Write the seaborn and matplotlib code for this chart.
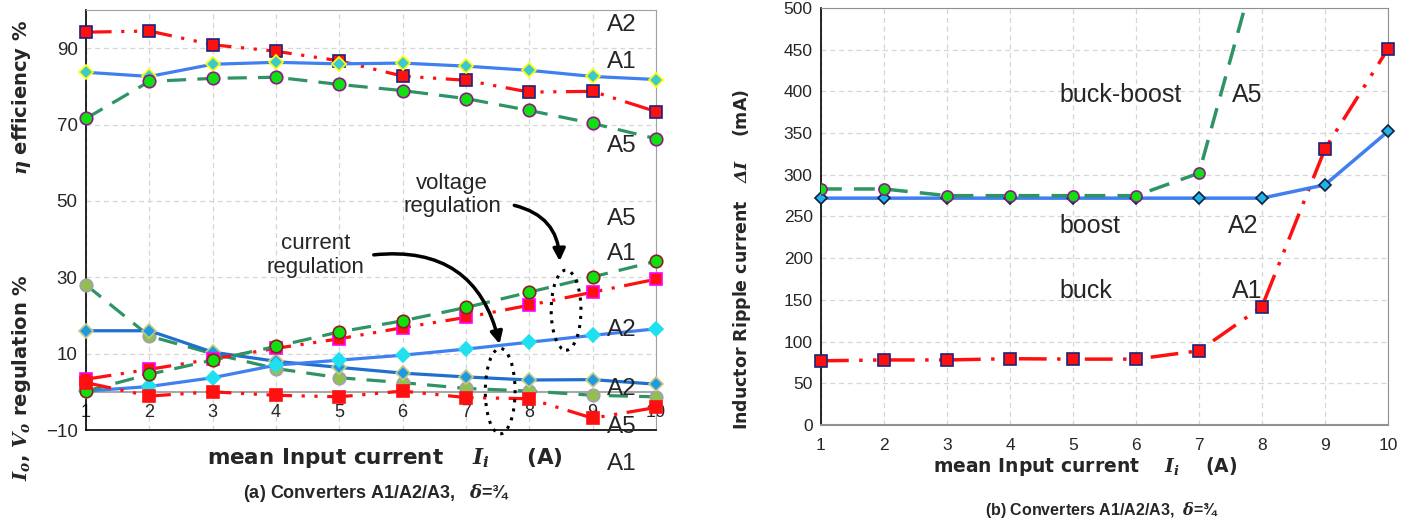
import matplotlib
matplotlib.use("Agg")
import matplotlib.pyplot as plt
from matplotlib.patches import Ellipse
import seaborn as sns

current = [1, 2, 3, 4, 5, 6, 7, 8, 9, 10]

# (a) efficiency %
eff_a2 = [94.2, 94.5, 90.9, 89.2, 86.7, 82.7, 81.6, 78.5, 78.7, 73.4]
eff_a1 = [83.7, 82.6, 85.8, 86.3, 85.9, 86.1, 85.3, 84.2, 82.6, 81.8]
eff_a5 = [71.6, 81.3, 82.1, 82.4, 80.5, 78.9, 76.8, 73.7, 70.3, 66.3]

# (a) current / voltage regulation %
ireg_a5 = [0.2, 4.6, 8.3, 11.9, 15.7, 18.6, 22.1, 26.1, 30.1, 34.2]
ireg_a1 = [3.3, 5.9, 8.6, 11.4, 13.9, 16.8, 19.5, 22.7, 26.1, 29.5]
ireg_a2 = [0.2, 1.4, 3.7, 7.0, 8.3, 9.6, 11.2, 13.0, 14.8, 16.5]
vreg_a2 = [16.0, 16.0, 10.4, 8.0, 6.4, 4.9, 3.9, 3.1, 3.2, 2.0]
vreg_a5 = [28.0, 14.6, 10.0, 6.1, 3.7, 2.4, 0.9, 0.2, -0.9, -1.3]
vreg_a1 = [2.4, -1.1, 0.0, -0.9, -1.3, 0.2, -1.5, -1.8, -6.9, -4.1]

# (b) inductor ripple current, mA
current_a5 = [1, 2, 3, 4, 5, 6, 7, 8]
ripple_a5 = [283, 283, 275, 275, 275, 275, 302, 575]
ripple_a2 = [272, 272, 272, 272, 272, 272, 272, 272, 288, 352]
ripple_a1 = [77, 78, 78, 79.5, 79, 79, 89, 142, 331, 451]

sns.set_style("white")
plt.rcParams["font.family"] = ["Liberation Sans", "DejaVu Sans"]
plt.rcParams["mathtext.fontset"] = "dejavuserif"

RED = "#ff1010"
BLUE = "#3f7ff0"
DBLUE = "#1f6fd0"
GREEN = "#2f9463"
dashdotdot = (0, (8, 3, 1, 3, 1, 3))
dashed = (0, (6, 3.5))

fig = plt.figure(figsize=(14.15, 5.22), dpi=100)
ax = fig.add_axes([0.0608, 0.1762, 0.4028, 0.8046])
bx = fig.add_axes([0.5802, 0.1858, 0.4007, 0.7989])


def line(a, x, y, color, ls, marker, face, edge, ms=9, lw=2.3):
    sns.lineplot(x=x, y=y, ax=a, color=color, linestyle=ls, lw=lw,
                 marker=marker, markersize=ms, markerfacecolor=face,
                 markeredgecolor=edge, markeredgewidth=1.2, clip_on=False,
                 zorder=3)


# ---- (a) ----
line(ax, current, eff_a2, RED, dashdotdot, "s", RED, "#1a237e", 8.5)
line(ax, current, eff_a1, BLUE, "-", "D", "#3cc8d0", "#ffff00", 7.5)
line(ax, current, eff_a5, GREEN, dashed, "o", "#10e010", "#8a1a8a", 9)
line(ax, current, vreg_a5, GREEN, dashed, "o", "#92c050", "#a0a0b0", 9)
line(ax, current, vreg_a2, DBLUE, "-", "D", "#1e9be0", "#c8c880", 7)
line(ax, current, ireg_a2, BLUE, "-", "D", "#20e0f0", "#20e0f0", 7)
line(ax, current, ireg_a1, RED, dashdotdot, "s", RED, "#ff00ff", 9)
line(ax, current, ireg_a5, GREEN, dashed, "o", "#10e010", "#8a2020", 9)
line(ax, current, vreg_a1, RED, dashdotdot, "s", RED, RED, 9)

ax.set_xlim(1, 10)
ax.set_ylim(-10, 100)
ax.set_xticks(current)
ax.set_yticks([-10, 10, 30, 50, 70, 90])
ax.grid(True, color="#d6d6d6", linestyle=(0, (4, 3)), lw=0.9)
ax.axhline(0, color="#a8a8a8", lw=1.5, zorder=1)
ax.tick_params(axis="x", length=0, pad=-19, labelsize=13)
ax.tick_params(axis="y", length=4, labelsize=13.5, pad=2)
for s in ["top", "right"]:
    ax.spines[s].set_color("#a0a0a0")
for s in ["left", "bottom"]:
    ax.spines[s].set_color("black")
    ax.spines[s].set_linewidth(1.2)

labels_a = [("A2", 96.2), ("A1", 86.4), ("A5", 64.4), ("A5", 45.3), ("A1", 36.0),
            ("A2", 16.1), ("A2", 0.7), ("A5", -9.1), ("A1", -18.9)]
for t, yv in labels_a:
    ax.text(9.23, yv, t, fontsize=17.5, va="center", ha="left", clip_on=False, zorder=4)

ax.text(6.78, 51.6, "voltage\nregulation", fontsize=16, ha="center", va="center",
        linespacing=1.15)
ax.text(4.62, 35.7, "current\nregulation", fontsize=16, ha="center", va="center",
        linespacing=1.15)
ax.annotate("", xy=(8.48, 33.5), xytext=(7.72, 49.0),
            arrowprops=dict(arrowstyle="-|>", color="black", lw=2.5,
                            connectionstyle="arc3,rad=-0.4", mutation_scale=18))
ax.annotate("", xy=(7.54, 11.8), xytext=(5.5, 35.8),
            arrowprops=dict(arrowstyle="-|>", color="black", lw=2.5,
                            connectionstyle="arc3,rad=-0.45", mutation_scale=18))
ax.add_patch(Ellipse((8.58, 21.4), 0.47, 21, fill=False, ls=(0, (1, 2)),
                     lw=2.2, color="black", zorder=5))
ax.add_patch(Ellipse((7.54, 0.2), 0.47, 22.4, fill=False, ls=(0, (1, 2)),
                     lw=2.2, color="black", zorder=5, clip_on=False))

fig.text(22 / 1415, 1 - 97 / 522, r"$\mathbfit{\eta}$ efficiency %", rotation=90,
         ha="center", va="center", fontsize=14, fontweight="bold", family="DejaVu Sans")
fig.text(22 / 1415, 1 - 378 / 522, r"$\mathbfit{I_o}$, $\mathbfit{V_o}$ regulation %",
         rotation=90, ha="center", va="center", fontsize=14, fontweight="bold",
         family="DejaVu Sans")
fig.text(385 / 1415, 1 - 458 / 522,
         r"mean Input current    $\mathbfit{I_i}$     (A)",
         ha="center", va="center", fontsize=15.5, fontweight="bold", family="DejaVu Sans")
fig.text(376 / 1415, 1 - 493 / 522,
         r"(a) Converters A1/A2/A3,   $\mathbfit{\delta}$=¾",
         ha="center", va="center", fontsize=13, fontweight="bold")

# ---- (b) ----
line(bx, current, ripple_a1, RED, dashdotdot, "s", RED, "#1a237e", 8, 2.5)
line(bx, current, ripple_a2, BLUE, "-", "D", "#1fb5e8", "#102040", 6, 2.5)
sns.lineplot(x=current_a5, y=ripple_a5, ax=bx, color=GREEN, linestyle=dashed, lw=2.5,
             marker="o", markersize=8, markerfacecolor="#10e010",
             markeredgecolor="#8a1a8a", markeredgewidth=1.2, zorder=3)

bx.set_xlim(1, 10)
bx.set_ylim(0, 500)
bx.set_xticks(current)
bx.set_yticks(range(0, 501, 50))
bx.grid(True, color="#d6d6d6", linestyle=(0, (4, 3)), lw=0.9)
bx.tick_params(axis="x", length=4, color="#909090", pad=5, labelsize=12.5)
bx.tick_params(axis="y", length=4, labelsize=12.5, pad=2)
for s in ["top", "right", "bottom"]:
    bx.spines[s].set_color("#909090")
bx.spines["bottom"].set_linewidth(1.5)
bx.spines["left"].set_color("black")
bx.spines["left"].set_linewidth(1.2)

for t, xv, yv in [("buck-boost", 4.79, 396), ("A5", 7.52, 396), ("boost", 4.79, 239),
                  ("A2", 7.46, 239), ("buck", 4.79, 161), ("A1", 7.52, 161)]:
    bx.text(xv, yv, t, fontsize=18, ha="left", va="center", zorder=4)

fig.text(742 / 1415, 1 - 260 / 522,
         r"Inductor Ripple current   $\mathbfit{\Delta I}$    (mA)",
         rotation=90, ha="center", va="center", fontsize=12.5, fontweight="bold",
         family="DejaVu Sans")
fig.text(1085 / 1415, 1 - 467 / 522,
         r"mean Input current    $\mathbfit{I_i}$    (A)",
         ha="center", va="center", fontsize=13.5, fontweight="bold", family="DejaVu Sans")
fig.text(1102 / 1415, 1 - 510 / 522,
         r"(b) Converters A1/A2/A3,  $\mathbfit{\delta}$=¾",
         ha="center", va="center", fontsize=11.5, fontweight="bold")

fig.savefig("out.png", dpi=100)
